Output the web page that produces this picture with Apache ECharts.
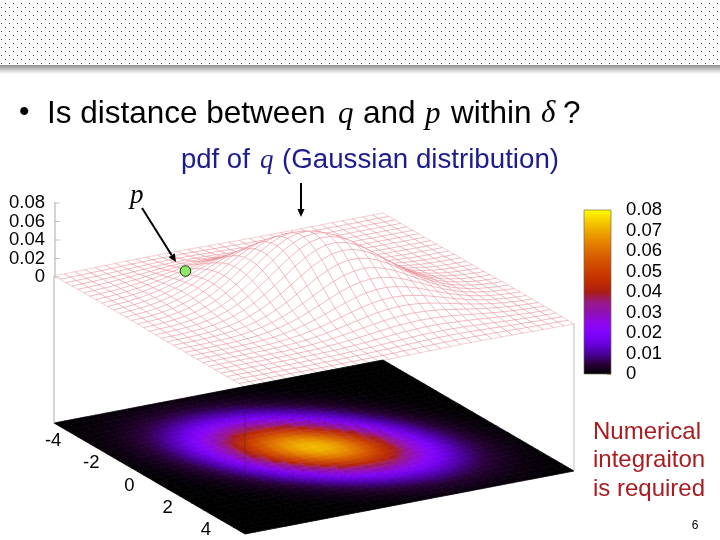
<!DOCTYPE html>
<html>
<head>
<meta charset="utf-8">
<title>pdf of q</title>
<script src="https://cdn.jsdelivr.net/npm/echarts@6/dist/echarts.min.js"></script>
<style>
html,body{margin:0;padding:0;background:#fff;}
#main{width:720px;height:540px;}
</style>
</head>
<body>
<div id="main"></div>
<script>
// axis ticks
var xTicks = [-4, -2, 0, 2, 4];
var zTicks = [0, 0.02, 0.04, 0.06, 0.08];
// surface heights, in units of 0.0001 (33 x 33, both axes -5..5)
var zRows = [
[2,2,3,5,6,8,9,11,12,13,13,13,12,11,9,8,6,5,3,2,2,1,1,0,0,0,0,0,0,0,0,0,0],
[2,3,5,7,9,11,14,16,19,20,21,21,20,18,16,13,11,8,6,4,3,2,1,1,0,0,0,0,0,0,0,0,0],
[3,5,7,9,13,17,21,25,29,32,34,34,33,31,27,23,19,15,11,8,6,4,2,1,1,0,0,0,0,0,0,0,0],
[4,6,9,13,17,23,29,36,41,46,50,51,50,47,43,37,31,24,19,14,10,6,4,3,2,1,0,0,0,0,0,0,0],
[5,7,11,16,23,31,40,49,59,67,72,76,76,72,67,59,49,40,31,23,16,11,7,5,3,2,1,0,0,0,0,0,0],
[5,9,14,20,29,40,52,66,79,91,101,107,109,106,99,89,76,62,49,37,27,19,12,8,5,3,2,1,0,0,0,0,0],
[6,10,16,25,36,49,66,84,103,121,136,146,151,149,141,129,112,93,75,57,42,30,20,13,8,5,3,1,1,0,0,0,0],
[7,11,18,28,42,59,80,104,129,153,175,192,201,202,195,180,159,135,110,86,64,46,31,21,13,8,5,3,1,1,0,0,0],
[7,12,20,32,47,68,94,123,156,189,219,243,259,265,259,243,219,189,156,123,94,68,47,32,20,12,7,4,2,1,1,0,0],
[8,13,21,34,52,75,106,141,181,223,263,297,322,334,332,317,289,253,213,171,132,97,69,47,30,19,11,6,4,2,1,0,0],
[7,13,22,35,54,81,114,156,203,254,304,349,384,405,409,396,368,328,279,228,179,134,97,67,44,28,17,10,5,3,2,1,0],
[7,13,21,35,55,83,120,166,220,279,339,396,442,474,487,479,452,409,354,294,234,178,131,91,61,39,24,14,8,4,2,1,1],
[6,12,20,34,54,82,121,170,228,295,365,433,491,535,558,558,535,491,433,365,295,228,170,121,82,54,34,20,12,6,3,2,1],
[6,10,18,31,51,79,117,168,229,300,377,455,525,581,616,626,609,568,509,436,358,282,213,154,107,71,45,28,16,9,5,3,1],
[5,9,16,28,46,73,110,159,221,295,377,460,540,607,654,675,668,633,576,502,418,335,257,189,133,90,58,36,21,12,7,3,2],
[4,8,14,24,40,64,99,146,206,279,362,450,536,613,670,703,707,681,629,557,472,384,299,223,160,110,72,45,27,16,9,5,2],
[3,6,11,20,34,55,86,129,185,254,335,423,513,595,661,705,720,705,661,595,513,423,335,254,185,129,86,55,34,20,11,6,3],
[2,5,9,16,27,45,72,110,160,223,299,384,472,557,629,681,707,703,670,613,536,450,362,279,206,146,99,64,40,24,14,8,4],
[2,3,7,12,21,36,58,90,133,189,257,335,418,502,576,633,668,675,654,607,540,460,377,295,221,159,110,73,46,28,16,9,5],
[1,3,5,9,16,28,45,71,107,154,213,282,358,436,509,568,609,626,616,581,525,455,377,300,229,168,117,79,51,31,18,10,6],
[1,2,3,6,12,20,34,54,82,121,170,228,295,365,433,491,535,558,558,535,491,433,365,295,228,170,121,82,54,34,20,12,6],
[1,1,2,4,8,14,24,39,61,91,131,178,234,294,354,409,452,479,487,474,442,396,339,279,220,166,120,83,55,35,21,13,7],
[0,1,2,3,5,10,17,28,44,67,97,134,179,228,279,328,368,396,409,405,384,349,304,254,203,156,114,81,54,35,22,13,7],
[0,0,1,2,4,6,11,19,30,47,69,97,132,171,213,253,289,317,332,334,322,297,263,223,181,141,106,75,52,34,21,13,8],
[0,0,1,1,2,4,7,12,20,32,47,68,94,123,156,189,219,243,259,265,259,243,219,189,156,123,94,68,47,32,20,12,7],
[0,0,0,1,1,3,5,8,13,21,31,46,64,86,110,135,159,180,195,202,201,192,175,153,129,104,80,59,42,28,18,11,7],
[0,0,0,0,1,1,3,5,8,13,20,30,42,57,75,93,112,129,141,149,151,146,136,121,103,84,66,49,36,25,16,10,6],
[0,0,0,0,0,1,2,3,5,8,12,19,27,37,49,62,76,89,99,106,109,107,101,91,79,66,52,40,29,20,14,9,5],
[0,0,0,0,0,0,1,2,3,5,7,11,16,23,31,40,49,59,67,72,76,76,72,67,59,49,40,31,23,16,11,7,5],
[0,0,0,0,0,0,0,1,2,3,4,6,10,14,19,24,31,37,43,47,50,51,50,46,41,36,29,23,17,13,9,6,4],
[0,0,0,0,0,0,0,0,1,1,2,4,6,8,11,15,19,23,27,31,33,34,34,32,29,25,21,17,13,9,7,5,3],
[0,0,0,0,0,0,0,0,0,1,1,2,3,4,6,8,11,13,16,18,20,21,21,20,19,16,14,11,9,7,5,3,2],
[0,0,0,0,0,0,0,0,0,0,1,1,2,2,3,5,6,8,9,11,12,13,13,13,12,11,9,8,6,5,3,2,2]
];
// the green point: x, y, z
var pointP = [-3.63, -1.8, 0];
// colour bar, 0 to 0.08 in even steps
var palette = ['#000000','#2a0038','#4a009c','#6a00e0','#8004ff','#8e08ec','#9010b4','#981a88','#aa1e14',
               '#bf2d00','#ca3e00','#d35300','#dd6c00','#e68900','#eeab00','#f7d200','#ffff00'];
var zMax = 0.08;

var SANS = '"Liberation Sans", Arial, sans-serif';
var SERIF = '"Liberation Serif", "Times New Roman", serif';

// oblique view of the box, gnuplot style. z null = floor
function project(x, y, z) {
    return [314 + x * 19.1 + y * 32.9,
            447 + x * 11.1 - y * 6.3 - (z === null ? 0 : 147 + z * 925)];
}
function gridPos(k) {
    return -5 + k * 10 / (zRows.length - 1);
}
function surf(i, j) {
    return zRows[i][j] / 10000;
}
function colorOf(z) {
    return echarts.color.lerp(Math.max(0, Math.min(1, z / zMax)), palette);
}

var n = zRows.length;
var cells = [];
// back to front, so the front of the hump hides what is behind it
for (var i = 0; i < n - 1; i++) {
    for (var j = n - 2; j >= 0; j--) {
        cells.push([i, j]);
    }
}

var myChart = echarts.init(document.getElementById('main'));

// dotted header tile
var tile = document.createElement('canvas');
tile.width = 8;
tile.height = 8;
var ctx = tile.getContext('2d');
ctx.fillStyle = '#fff';
ctx.fillRect(0, 0, 8, 8);
ctx.fillStyle = '#444';
ctx.fillRect(5, 3, 1, 1);
ctx.fillRect(1, 7, 1, 1);

function label(text, x, y, font, color, align) {
    return {
        type: 'text', z: 20,
        style: {x: x, y: y, text: text, font: font, fill: color || '#000', textAlign: align || 'left', textVerticalAlign: 'middle'}
    };
}
function arrow(x1, y1, x2, y2) {
    var a = Math.atan2(y2 - y1, x2 - x1), len = 8, w = 3.6;
    var bx = x2 - Math.cos(a) * len, by = y2 - Math.sin(a) * len;
    return [
        {type: 'line', z: 20, shape: {x1: x1, y1: y1, x2: bx, y2: by}, style: {stroke: '#000', lineWidth: 2}},
        {type: 'polygon', z: 20, shape: {points: [[x2, y2],
            [bx - Math.sin(a) * w, by + Math.cos(a) * w],
            [bx + Math.sin(a) * w, by - Math.cos(a) * w]]}, style: {fill: '#000'}}
    ];
}

var graphics = [
    {type: 'rect', z: 0, shape: {x: 0, y: 0, width: 720, height: 65}, style: {fill: {image: tile, repeat: 'repeat'}}},
    {type: 'rect', z: 0, shape: {x: 0, y: 65, width: 720, height: 9},
     style: {fill: new echarts.graphic.LinearGradient(0, 0, 0, 1, [{offset: 0, color: '#8c8c8c'}, {offset: 0.35, color: '#b8b8b8'}, {offset: 1, color: '#ffffff'}])}},
    label('\u2022', 19, 113, '30px ' + SANS),
    label('Is distance between', 47, 114, '31.5px ' + SANS),
    label('q', 338, 115, 'italic 31px ' + SERIF),
    label('and', 363, 114, '31.5px ' + SANS),
    label('p', 425, 115, 'italic 31px ' + SERIF),
    label('within', 451, 114, '31.5px ' + SANS),
    label('\u03b4', 541, 114, 'italic 31px ' + SERIF),
    label('?', 563, 114, '31.5px ' + SANS),
    label('pdf of', 181, 160, '27.5px ' + SANS, '#1c1c8e'),
    label('q', 260, 161, 'italic 27px ' + SERIF, '#1c1c8e'),
    label('(Gaussian distribution)', 282, 160, '27.7px ' + SANS, '#1c1c8e'),
    label('p', 130, 196, 'italic 27px ' + SERIF),
    label('Numerical', 593, 432, '24px ' + SANS, '#a81c20'),
    label('integraiton', 593, 460, '24px ' + SANS, '#a81c20'),
    label('is required', 593, 489, '24px ' + SANS, '#a81c20'),
    label('6', 695, 526, '12px ' + SANS, '#000', 'center')
].concat(arrow(142, 208, 176, 262), arrow(301, 183, 301, 217));

var option = {
    animation: false,
    backgroundColor: '#fff',
    graphic: graphics,
    grid: [
        {left: 0, top: 0, width: 720, height: 540},
        {left: 54.5, top: 203, width: 1, height: 74},
        {left: 584, top: 210, width: 27, height: 164}
    ],
    xAxis: [
        {gridIndex: 0, type: 'value', min: 0, max: 720, show: false},
        {gridIndex: 1, type: 'value', min: 0, max: 1, show: false},
        {gridIndex: 2, type: 'value', min: 0, max: 1, show: false}
    ],
    yAxis: [
        {gridIndex: 0, type: 'value', min: 0, max: 540, inverse: true, show: false},
        {
            // tick labels of this one are drawn below, the axis drops every second one otherwise
            gridIndex: 1, type: 'value', min: 0, max: zMax, interval: 0.02,
            axisLine: {show: true, onZero: false, lineStyle: {color: '#c8c8c8', width: 1.5}},
            axisTick: {show: false},
            axisLabel: {show: false},
            splitLine: {show: false}
        },
        {
            gridIndex: 2, type: 'value', position: 'right', min: 0, max: zMax, interval: 0.01,
            axisLine: {show: false, onZero: false},
            axisTick: {show: true, inside: true, length: 4, lineStyle: {color: 'rgba(60,40,0,.45)'}},
            axisLabel: {color: '#000', fontFamily: SANS, fontSize: 18.5, margin: 15, showMinLabel: true, showMaxLabel: true, hideOverlap: false},
            splitLine: {show: false}
        }
    ],
    series: [
        {
            // red mesh of the surface
            type: 'custom', xAxisIndex: 0, yAxisIndex: 0, coordinateSystem: 'cartesian2d', silent: true, clip: false, z: 3,
            data: cells,
            renderItem: function (params, api) {
                var i = api.value(0), j = api.value(1);
                var pts = [[i, j], [i + 1, j], [i + 1, j + 1], [i, j + 1]].map(function (c) {
                    return api.coord(project(gridPos(c[0]), gridPos(c[1]), surf(c[0], c[1])));
                });
                return {type: 'polygon', shape: {points: pts},
                        style: {fill: '#fff', stroke: 'rgba(228,110,124,.56)', lineWidth: 0.6}};
            }
        },
        {
            // projected map on the floor, each cell shaded along its own slope
            type: 'custom', xAxisIndex: 0, yAxisIndex: 0, coordinateSystem: 'cartesian2d', silent: true, clip: false, z: 4,
            data: cells,
            renderItem: function (params, api) {
                var i = api.value(0), j = api.value(1);
                var pts = [[i, j], [i + 1, j], [i + 1, j + 1], [i, j + 1]].map(function (c) {
                    return api.coord(project(gridPos(c[0]), gridPos(c[1]), null));
                });
                var z00 = surf(i, j), z10 = surf(i + 1, j), z11 = surf(i + 1, j + 1), z01 = surf(i, j + 1);
                var z0 = (z00 + z10 + z11 + z01) / 4;
                var dzi = (z10 + z11 - z00 - z01) / 2, dzj = (z01 + z11 - z00 - z10) / 2;
                var e1 = [pts[1][0] - pts[0][0], pts[1][1] - pts[0][1]];
                var e2 = [pts[3][0] - pts[0][0], pts[3][1] - pts[0][1]];
                var det = e1[0] * e2[1] - e1[1] * e2[0];
                var gx = (dzi * e2[1] - dzj * e1[1]) / det, gy = (e1[0] * dzj - e2[0] * dzi) / det;
                var g = Math.sqrt(gx * gx + gy * gy), fill = colorOf(z0);
                if (g > 1e-7) {
                    var cx = (pts[0][0] + pts[1][0] + pts[2][0] + pts[3][0]) / 4;
                    var cy = (pts[0][1] + pts[1][1] + pts[2][1] + pts[3][1]) / 4;
                    var r = 10;
                    fill = new echarts.graphic.LinearGradient(
                        cx - r * gx / g, cy - r * gy / g, cx + r * gx / g, cy + r * gy / g,
                        [{offset: 0, color: colorOf(z0 - r * g)}, {offset: 0.5, color: colorOf(z0)}, {offset: 1, color: colorOf(z0 + r * g)}],
                        true);
                }
                return {type: 'polygon', shape: {points: pts},
                        style: {fill: fill, stroke: fill, lineWidth: 0.8}};
            }
        },
        {
            // box edges
            type: 'custom', xAxisIndex: 0, yAxisIndex: 0, coordinateSystem: 'cartesian2d', silent: true, clip: false, z: 5,
            data: [[-5, -5, 0], [5, 5, 1], [5, -5, 2]],
            renderItem: function (params, api) {
                var x = api.value(0), y = api.value(1), kind = api.value(2);
                var top = api.coord(project(x, y, 0)), bot = api.coord(project(x, y, null));
                if (kind === 2) {
                    return {type: 'line', shape: {x1: top[0], y1: top[1] + 18, x2: bot[0], y2: bot[1] - 60},
                            style: {stroke: 'rgba(40,30,60,.45)', lineWidth: 0.8}};
                }
                return {type: 'line', shape: {x1: top[0], y1: top[1], x2: bot[0], y2: bot[1]},
                        style: {stroke: kind ? '#bdbdbd' : '#c8c8c8', lineWidth: kind ? 1 : 1.5}};
            }
        },
        {
            // x tick labels
            type: 'custom', xAxisIndex: 0, yAxisIndex: 0, coordinateSystem: 'cartesian2d', silent: true, clip: false, z: 6,
            data: xTicks.map(function (t) { return [t]; }),
            renderItem: function (params, api) {
                var t = api.value(0);
                var c = api.coord(project(t, -5, null));
                return {type: 'text', style: {x: c[0] - 20, y: c[1] + 7, text: String(t), font: '18.5px ' + SANS,
                        fill: '#000', textAlign: 'center', textVerticalAlign: 'middle'}};
            }
        },
        {
            // point p
            type: 'custom', xAxisIndex: 0, yAxisIndex: 0, coordinateSystem: 'cartesian2d', silent: true, clip: false, z: 7,
            data: [pointP],
            renderItem: function (params, api) {
                var c = api.coord(project(api.value(0), api.value(1), api.value(2)));
                return {type: 'circle', shape: {cx: c[0], cy: c[1], r: 5.3},
                        style: {fill: '#8ee86c', stroke: '#1d3d12', lineWidth: 1}};
            }
        },
        {
            // colour bar
            type: 'custom', xAxisIndex: 2, yAxisIndex: 2, coordinateSystem: 'cartesian2d', silent: true, clip: false, z: 3,
            data: [[0, 0, 1, zMax]],
            renderItem: function (params, api) {
                var a = api.coord([api.value(0), api.value(1)]), b = api.coord([api.value(2), api.value(3)]);
                var stops = palette.map(function (c, idx) { return {offset: idx / (palette.length - 1), color: c}; });
                return {type: 'rect', shape: {x: a[0], y: b[1], width: b[0] - a[0], height: a[1] - b[1]},
                        style: {fill: new echarts.graphic.LinearGradient(0, 1, 0, 0, stops), stroke: 'rgba(110,100,70,.8)', lineWidth: 0.8}};
            }
        },
        {
            // z ticks and their labels
            type: 'custom', xAxisIndex: 1, yAxisIndex: 1, coordinateSystem: 'cartesian2d', silent: true, clip: false, z: 6,
            data: zTicks.map(function (t) { return [0, t]; }),
            renderItem: function (params, api) {
                var t = api.value(1);
                var c = api.coord([0, t]);
                return {type: 'group', children: [
                    {type: 'line', shape: {x1: c[0], y1: c[1], x2: c[0] + 5, y2: c[1]}, style: {stroke: '#bbb', lineWidth: 1}},
                    {type: 'text', style: {x: c[0] - 9.5, y: c[1], text: String(t), font: '18.5px ' + SANS,
                        fill: '#000', textAlign: 'right', textVerticalAlign: 'middle'}}
                ]};
            }
        }
    ]
};
myChart.setOption(option);
</script>
</body>
</html>
